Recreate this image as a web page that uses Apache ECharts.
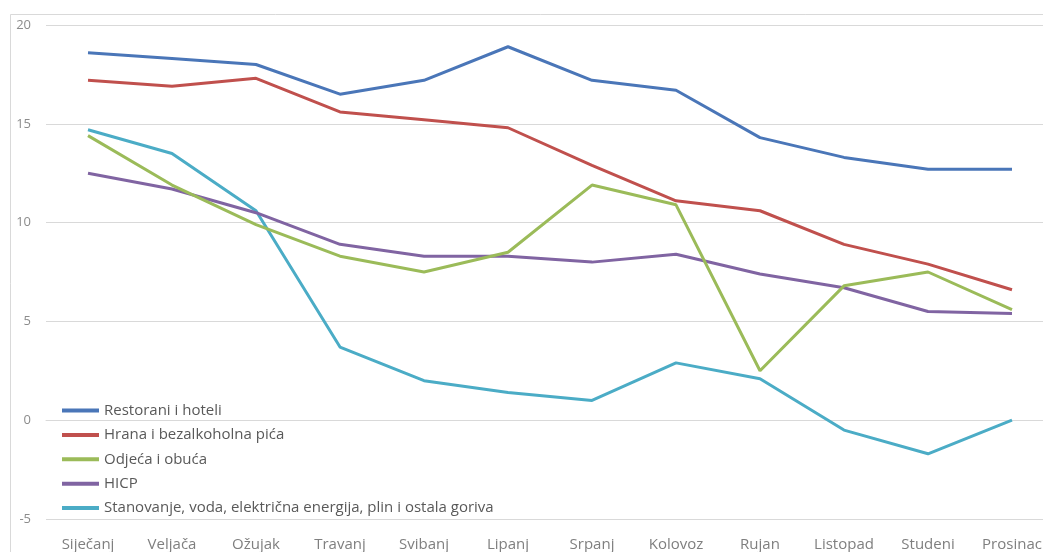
<!DOCTYPE html>
<html>
<head>
<meta charset="utf-8">
<script src="https://cdn.jsdelivr.net/npm/echarts@6/dist/echarts.min.js"></script>
<style>html,body{margin:0;padding:0;background:#fff;overflow:hidden}#c{width:1070px;height:552px}</style>
</head>
<body>
<div id="c"></div>
<script>
var months = ['Siječanj','Veljača','Ožujak','Travanj','Svibanj','Lipanj','Srpanj','Kolovoz','Rujan','Listopad','Studeni','Prosinac'];
var yTicks = [-5, 0, 5, 10, 15, 20];
var restorani = [18.6, 18.3, 18.0, 16.5, 17.2, 18.9, 17.2, 16.7, 14.3, 13.3, 12.7, 12.7];
var hrana = [17.2, 16.9, 17.3, 15.6, 15.2, 14.8, 12.9, 11.1, 10.6, 8.9, 7.9, 6.6];
var odjeca = [14.4, 11.9, 9.9, 8.3, 7.5, 8.5, 11.9, 10.9, 2.5, 6.8, 7.5, 5.6];
var hicp = [12.5, 11.7, 10.5, 8.9, 8.3, 8.3, 8.0, 8.4, 7.4, 6.7, 5.5, 5.4];
var stanovanje = [14.7, 13.5, 10.6, 3.7, 2.0, 1.4, 1.0, 2.9, 2.1, -0.5, -1.7, 0.0];
var names = ['Restorani i hoteli','Hrana i bezalkoholna pića','Odjeća i obuća','HICP','Stanovanje, voda, električna energija, plin i ostala goriva'];
var colors = ['#4A76B8','#C0504D','#9BBB59','#8064A2','#4BACC6'];
var data = [restorani, hrana, odjeca, hicp, stanovanje];

var chart = echarts.init(document.getElementById('c'));
var font = 'Open Sans';
chart.setOption({
  animation: false,
  backgroundColor: '#fff',
  textStyle: {fontFamily: font},
  graphic: [{type:'rect', shape:{x:10.5, y:14.5, width:1200, height:700}, style:{fill:'none', stroke:'#d9d9d9', lineWidth:1}, z:-1}],
  grid: {left: 46, top: 25, width: 1008, height: 498},
  legend: {
    orient: 'vertical', left: 62, top: 403, padding: 0,
    icon: 'rect', itemWidth: 37, itemHeight: 4, itemGap: 9.4,
    textStyle: {color: '#595959', fontSize: 15, lineHeight: 14, fontFamily: font},
    data: names
  },
  xAxis: {
    type: 'category', data: months, boundaryGap: true,
    axisLine: {show: true, lineStyle: {color: '#d9d9d9'}},
    axisTick: {show: false},
    axisLabel: {color: '#7f7f7f', fontSize: 15, margin: 18, interval: 0, fontFamily: font}
  },
  yAxis: {
    type: 'value', min: yTicks[0], max: yTicks[yTicks.length-1], interval: 5,
    axisLine: {show: false}, axisTick: {show: false},
    axisLabel: {color: '#8c8c8c', fontSize: 13, margin: 15, fontFamily: font},
    splitLine: {lineStyle: {color: '#d9d9d9', width: 1}}
  },
  series: names.map(function(n, i){
    return {name: n, type: 'line', data: data[i], symbol: 'none', color: colors[i],
      lineStyle: {width: 3, color: colors[i]}, z: 10 - i};
  })
});
</script>
</body>
</html>
